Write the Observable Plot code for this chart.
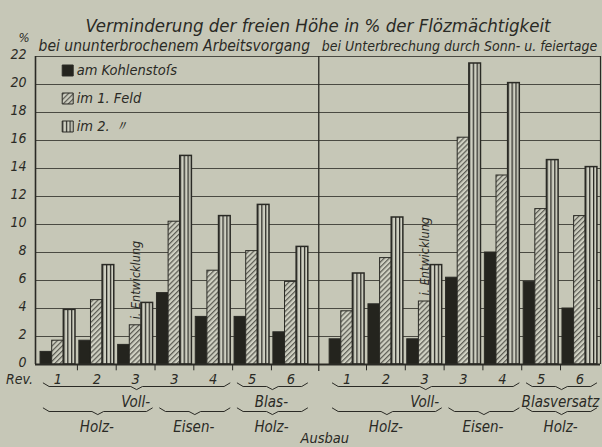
<!DOCTYPE html>
<html><head><meta charset="utf-8">
<script src="https://cdn.jsdelivr.net/npm/d3@7"></script>
<script src="https://cdn.jsdelivr.net/npm/@observablehq/plot@0.6"></script>
<style>
html,body{margin:0;padding:0;background:#c6c7b7;}
#chart svg{display:block;}
</style></head><body><div id="chart"></div>
<script>
// ---- data ----
const title = "Verminderung der freien Höhe in % der Flözmächtigkeit";
const panels = ["bei ununterbrochenem Arbeitsvorgang", "bei Unterbrechung durch Sonn- u. feiertage"];
const series = ["am Kohlenstoſs", "im 1. Feld", "im 2. 〃"];
const revisions = ["1", "2", "3", "3", "4", "5", "6"];
const kohlenstossL = [0.9, 1.7, 1.4, 5.1, 3.4, 3.4, 2.3];
const feld1L      = [1.7, 4.6, 2.8, 10.2, 6.7, 8.1, 5.9];
const feld2L      = [3.9, 7.1, 4.4, 14.9, 10.6, 11.4, 8.4];
const kohlenstossR = [1.8, 4.3, 1.8, 6.2, 8.0, 5.9, 4.0];
const feld1R      = [3.8, 7.6, 4.5, 16.2, 13.5, 11.1, 10.6];
const feld2R      = [6.5, 10.5, 7.1, 21.5, 20.1, 14.6, 14.1];
const yTicks = [0, 2, 4, 6, 8, 10, 12, 14, 16, 18, 20, 22];
const systemLabels = [["Voll-", "Blas-"], ["Voll-", "Blasversatz"]];
const systemSpans = [[0, 4], [5, 6]];
const materialLabels = ["Holz-", "Eisen-", "Holz-"];
const materialSpans = [[0, 2], [3, 4], [5, 6]];
const noteText = "i. Entwicklung";
const noteGroup = 2;
const revLabel = "Rev.";
const ausbauLabel = "Ausbau";
const unitLabel = "%";

// ---- layout (in group units of the x scale) ----
const panelOffset = [0, 7.45];
const separator = 7.22;
const xDomain = [-0.08, 14.48];
const pad = 0.05, barW = 0.3;

const values = [[kohlenstossL, feld1L, feld2L], [kohlenstossR, feld1R, feld2R]];
const bars = [];
values.forEach((pv, p) => pv.forEach((arr, s) => arr.forEach((v, g) => {
  const x1 = panelOffset[p] + g + pad + s * barW;
  bars.push({panel: p, group: g, series: s, value: v, x1, x2: x1 + barW});
})));

const revRows = [];
panels.forEach((_, p) => revisions.forEach((r, g) => revRows.push({label: r, x: panelOffset[p] + g + 0.5})));
const tickRows = [];
panels.forEach((_, p) => revisions.forEach((r, g) => { if (g > 0) tickRows.push(panelOffset[p] + g); }));

function brace(p, span, key) {
  const a = panelOffset[p] + span[0] + 0.12, b = panelOffset[p] + span[1] + 0.93, m = (a + b) / 2;
  return [[a, 0.25], [a + 0.15, 0], [m - 0.15, 0], [m, -0.22], [m + 0.15, 0], [b - 0.15, 0], [b, 0.25]]
    .map(([x, y]) => ({x, y, key}));
}
const braces1 = [], braces2 = [];
const sysRows = [], matRows = [];
panels.forEach((_, p) => {
  systemSpans.forEach((sp, i) => {
    braces1.push(...brace(p, sp, `${p}-${i}`));
    sysRows.push({label: systemLabels[p][i], x: panelOffset[p] + (sp[0] + sp[1] + 1) / 2});
  });
  materialSpans.forEach((sp, i) => {
    braces2.push(...brace(p, sp, `${p}-${i}`));
    matRows.push({label: materialLabels[i], x: panelOffset[p] + (sp[0] + sp[1] + 1) / 2});
  });
});
const noteRows = panels.map((_, p) => ({
  x: panelOffset[p] + noteGroup + pad + 1.5 * barW,
  y: values[p][1][noteGroup]
}));

const ink = "#2a2a25";
const fills = [ "#24241e", "url(#hatch)", "url(#vstripe)" ];
const font = "'DejaVu Sans Condensed','Liberation Sans Narrow','DejaVu Sans',sans-serif";

const chart = Plot.plot({
  width: 602, height: 447,
  marginTop: 56, marginBottom: 83, marginLeft: 35, marginRight: 2,
  x: {type: "linear", domain: xDomain, axis: null},
  y: {domain: [0, 22]},
  style: {background: "#c6c7b7", fontFamily: font, fontStyle: "italic", color: ink},
  marks: [
    Plot.ruleY(yTicks.filter(t => t > 0), {x1: xDomain[0], x2: xDomain[1], stroke: "#4a4a42", strokeWidth: 1}),
    Plot.ruleX([xDomain[0]], {y1: 0, y2: 22, stroke: ink, strokeWidth: 1.6}),
    Plot.ruleX([xDomain[1]], {y1: 0, y2: 22, stroke: ink, strokeWidth: 1.2}),
    Plot.ruleX([separator], {y1: -0.5, y2: 22, stroke: ink, strokeWidth: 1.3}),
    Plot.ruleX(tickRows, {y1: 0, y2: -0.45, stroke: ink, strokeWidth: 1}),
    ...fills.map((f, s) => Plot.rectY(bars.filter(d => d.series === s), {
      x1: "x1", x2: "x2", y1: 0, y2: "value", fill: f, stroke: ink, strokeWidth: s === 2 ? 1.5 : 1
    })),
    Plot.ruleY([0], {x1: xDomain[0], x2: xDomain[1], stroke: ink, strokeWidth: 2.2}),
    Plot.axisY(yTicks, {tickSize: 0, tickPadding: 9, label: null, fontSize: 14, dy: -2, fill: ink}),
    Plot.text([unitLabel], {frameAnchor: "top-left", dx: -17, dy: -24, fontSize: 13, fill: ink}),
    Plot.text([title], {frameAnchor: "top", dy: -38, fontSize: 18.5, fill: ink}),
    Plot.text([panels[0]], {x: 0, y: 22, dy: -10, textAnchor: "start", fontSize: 15.5, fill: ink}),
    Plot.text([panels[1]], {x: separator, y: 22, dx: 3, dy: -10, textAnchor: "start", fontSize: 14, fill: ink}),
    // legend
    Plot.dot(series, {x: 0.75, y: (d, i) => 21 - 2 * i, symbol: "square", r: 6.2,
      fill: (d, i) => i, stroke: ink, strokeWidth: 1}),
    Plot.text(series, {x: 0.75, y: (d, i) => 21 - 2 * i, dx: 9, textAnchor: "start", fontSize: 14.5, fill: ink}),
    // notes
    Plot.text(noteRows, {x: "x", y: "y", text: () => noteText, rotate: -90, textAnchor: "start", dy: -6, fontSize: 12.5, fill: ink}),
    // bottom labels
    Plot.text([revLabel], {x: xDomain[0], y: 0, dx: -16, dy: 15, fontSize: 14, fill: ink}),
    Plot.text(revRows, {x: "x", y: 0, text: "label", dy: 15, fontSize: 14.5, fill: ink}),
    Plot.line(braces1, {x: "x", y: "y", z: "key", dy: 22, stroke: ink, strokeWidth: 1}),
    Plot.text(sysRows, {x: "x", y: 0, text: "label", dy: 38, fontSize: 15, fill: ink}),
    Plot.line(braces2, {x: "x", y: "y", z: "key", dy: 47, stroke: ink, strokeWidth: 1}),
    Plot.text(matRows, {x: "x", y: 0, text: "label", dy: 63, fontSize: 15, fill: ink}),
    Plot.text([ausbauLabel], {x: separator, y: 0, dx: 6, dy: 74, fontSize: 14.5, fill: ink})
  ],
  color: {type: "ordinal", domain: [0, 1, 2], range: fills}
});

// SVG patterns for the hatched and striped bars
const ns = "http://www.w3.org/2000/svg";
const defs = document.createElementNS(ns, "defs");
defs.innerHTML = `
<pattern id="hatch" patternUnits="userSpaceOnUse" width="3.6" height="3.6" patternTransform="rotate(45)">
  <rect width="3.6" height="3.6" fill="#cfd0c2"/>
  <line x1="0.6" y1="0" x2="0.6" y2="3.6" stroke="#5c5c54" stroke-width="1.3"/>
</pattern>
<pattern id="vstripe" patternUnits="objectBoundingBox" patternContentUnits="objectBoundingBox" width="0.33333" height="1">
  <rect width="0.33333" height="1" fill="#cfd0c2"/>
  <rect x="0" width="0.11" height="1" fill="#2c2c27"/>
</pattern>`;
chart.insertBefore(defs, chart.firstChild);
document.getElementById("chart").appendChild(chart);
</script>
</body></html>
